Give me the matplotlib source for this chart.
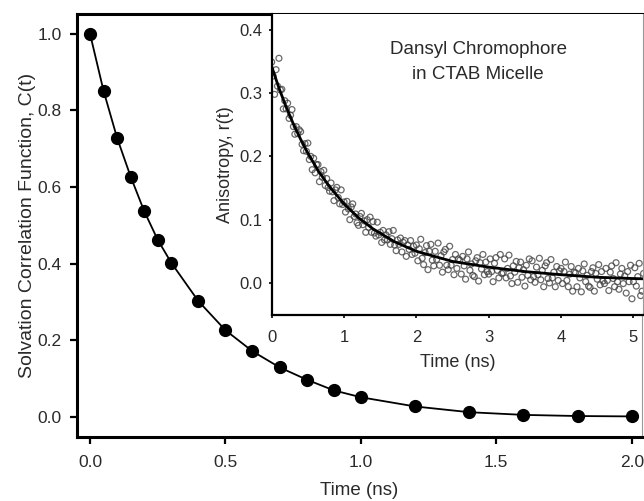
import numpy as np
import matplotlib
matplotlib.use("Agg")
import matplotlib.pyplot as plt

plt.rcParams['font.family'] = ['Liberation Sans', 'DejaVu Sans']

# main panel: solvation correlation function
t_main = [0.0, 0.05, 0.1, 0.15, 0.2, 0.25, 0.3, 0.4, 0.5, 0.6, 0.7, 0.8,
          0.9, 1.0, 1.2, 1.4, 1.6, 1.8, 2.0]
c_main = [1.0, 0.851, 0.728, 0.627, 0.537, 0.462, 0.402, 0.302, 0.226, 0.171,
          0.129, 0.097, 0.069, 0.051, 0.027, 0.012, 0.005, 0.002, 0.001]

# inset: anisotropy decay, measured points every 0.02 ns
r_data = [
    0.349, 0.327, 0.298, 0.337, 0.311, 0.355, 0.305, 0.306, 0.275, 0.288,
    0.275, 0.284, 0.260, 0.265, 0.274, 0.247, 0.235, 0.247, 0.236, 0.242,
    0.239, 0.219, 0.209, 0.220, 0.208, 0.221, 0.195, 0.200, 0.179, 0.197,
    0.174, 0.187, 0.187, 0.160, 0.176, 0.167, 0.178, 0.154, 0.165, 0.151,
    0.145, 0.158, 0.144, 0.130, 0.147, 0.151, 0.135, 0.125, 0.147, 0.124,
    0.128, 0.112, 0.129, 0.117, 0.100, 0.120, 0.125, 0.105, 0.109, 0.095,
    0.091, 0.105, 0.110, 0.092, 0.098, 0.080, 0.100, 0.088, 0.104, 0.080,
    0.097, 0.079, 0.074, 0.096, 0.076, 0.080, 0.064, 0.083, 0.068, 0.076,
    0.068, 0.081, 0.061, 0.070, 0.083, 0.060, 0.051, 0.068, 0.061, 0.071,
    0.049, 0.064, 0.067, 0.042, 0.060, 0.053, 0.067, 0.045, 0.058, 0.047,
    0.060, 0.035, 0.054, 0.069, 0.039, 0.029, 0.048, 0.059, 0.021, 0.050,
    0.061, 0.036, 0.027, 0.050, 0.037, 0.063, 0.028, 0.043, 0.017, 0.049,
    0.053, 0.028, 0.021, 0.058, 0.028, 0.037, 0.013, 0.045, 0.023, 0.038,
    0.036, 0.014, 0.042, 0.027, 0.006, 0.038, 0.049, 0.020, 0.030, 0.012,
    0.010, 0.035, 0.040, 0.003, 0.032, 0.022, 0.045, 0.013, 0.033, 0.018,
    0.014, 0.038, 0.018, 0.002, 0.031, 0.040, 0.020, 0.008, 0.045, 0.015,
    0.016, 0.038, 0.008, 0.023, 0.044, 0.011, -0.001, 0.027, 0.017, 0.034,
    0.001, 0.024, 0.033, 0.009, 0.021, -0.005, 0.028, 0.012, 0.038, 0.005,
    0.035, 0.010, 0.001, 0.025, 0.013, 0.039, 0.005, 0.020, -0.006, 0.027,
    0.032, 0.007, 0.000, 0.037, 0.008, 0.017, -0.006, 0.026, 0.004, 0.019,
    0.023, -0.001, 0.018, 0.033, 0.004, -0.006, 0.014, 0.026, -0.013, 0.017,
    0.016, -0.006, 0.023, 0.008, -0.014, 0.019, 0.030, 0.002, 0.012, -0.005,
    -0.007, 0.018, 0.024, -0.013, 0.015, 0.006, 0.029, -0.003, 0.018, 0.003,
    -0.001, 0.023, 0.004, -0.012, 0.017, 0.027, 0.007, -0.006, 0.032, 0.002,
    -0.010, 0.014, 0.023, -0.001, 0.011, -0.016, 0.018, 0.002, 0.028, -0.025,
    0.002, 0.024, -0.005, 0.010, 0.031, -0.020, -0.013, 0.015,
]
t_data = np.arange(len(r_data)) * 0.02

# inset fit curve
t_fit = [0.0, 0.1, 0.2, 0.3, 0.4, 0.5, 0.65, 0.8, 1.0, 1.2, 1.4, 1.7, 2.0,
         2.5, 3.0, 3.5, 4.0, 4.5, 5.0, 5.15]
r_fit = [0.342, 0.308, 0.278, 0.251, 0.227, 0.205, 0.176, 0.152, 0.125, 0.103,
         0.0855, 0.065, 0.050, 0.034, 0.025, 0.018, 0.013, 0.009, 0.007, 0.0065]

txt = '#2a2a2a'
fig = plt.figure(figsize=(6.44, 5.01), dpi=100)

ax = fig.add_axes([0.1191, 0.1283, 0.8778, 0.8437])
ax.plot(t_main, c_main, '-', color='black', lw=1.3)
ax.plot(t_main, c_main, 'o', color='black', ms=8.5)
ax.set_xlim(-0.049, 2.038)
ax.set_ylim(-0.052, 1.051)
ax.set_xticks([0.0, 0.5, 1.0, 1.5, 2.0])
ax.set_yticks([0.0, 0.2, 0.4, 0.6, 0.8, 1.0])
ax.xaxis.set_major_formatter(matplotlib.ticker.FormatStrFormatter('%.1f'))
ax.yaxis.set_major_formatter(matplotlib.ticker.FormatStrFormatter('%.1f'))
ax.tick_params(direction='out', length=5, width=1.6, labelsize=12.5,
               labelcolor=txt, pad=6)
ax.tick_params(axis='x', pad=8)
for s in ['left', 'bottom', 'top']:
    ax.spines[s].set_linewidth(2.2)
ax.spines['right'].set_linewidth(0.8)
ax.spines['right'].set_color('#999999')
ax.set_xlabel('Time (ns)', fontsize=13.5, color=txt, labelpad=9)
ax.set_ylabel('Solvation Correlation Function, C(t)', fontsize=14,
              color=txt, labelpad=1)

ins = fig.add_axes([0.4219, 0.3713, 0.5766, 0.6008])
ins.scatter(t_data, r_data, s=18, facecolors='none', edgecolors='#444444',
            linewidths=0.9, alpha=0.8)
ins.plot(t_fit, r_fit, '-', color='black', lw=2.0)
ins.set_xlim(0, 5.133)
ins.set_ylim(-0.0506, 0.425)
ins.set_xticks([0, 1, 2, 3, 4, 5])
ins.set_yticks([0.0, 0.1, 0.2, 0.3, 0.4])
ins.yaxis.set_major_formatter(matplotlib.ticker.FormatStrFormatter('%.1f'))
ins.tick_params(direction='out', length=2.5, width=1.2, labelsize=12,
                labelcolor=txt, pad=4)
ins.tick_params(axis='x', pad=8)
ins.spines['left'].set_linewidth(1.6)
ins.spines['bottom'].set_linewidth(1.6)
ins.spines['top'].set_visible(False)
ins.spines['right'].set_linewidth(0.8)
ins.spines['right'].set_color('#999999')
ins.set_xlabel('Time (ns)', fontsize=13, color=txt, labelpad=7)
ins.set_ylabel('Anisotropy, r(t)', fontsize=13, color=txt, labelpad=4)
ins.text(0.556, 0.84, 'Dansyl Chromophore\nin CTAB Micelle', transform=ins.transAxes,
         ha='center', va='center', fontsize=13.5, color=txt, linespacing=1.6)

fig.savefig('out.png', dpi=100)
